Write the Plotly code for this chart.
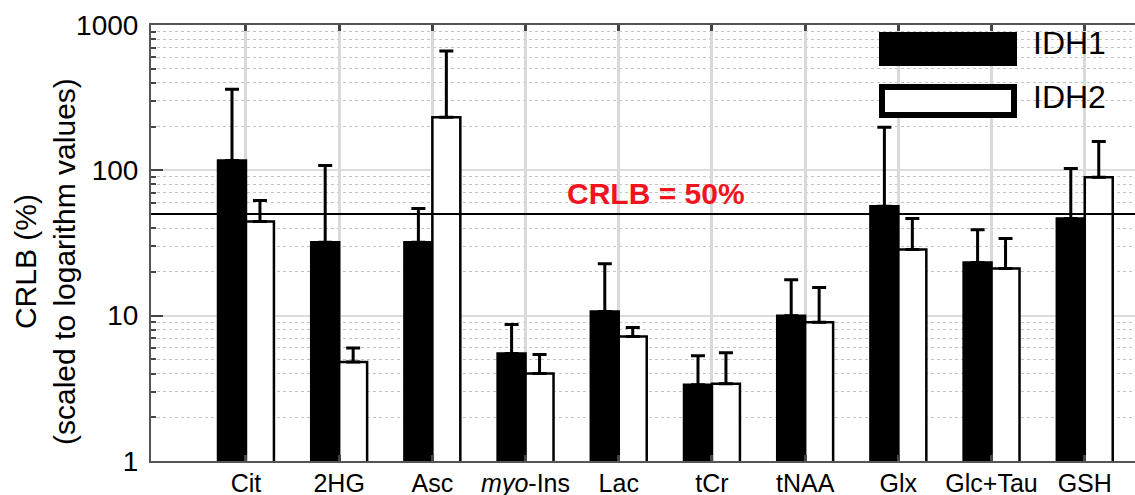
import plotly.graph_objects as go

# ---- data ----
categories = ["Cit", "2HG", "Asc", "myo-Ins", "Lac", "tCr", "tNAA", "Glx", "Glc+Tau", "GSH"]
tick_labels = ["Cit", "2HG", "Asc", "<i>myo</i>-Ins", "Lac", "tCr", "tNAA", "Glx", "Glc+Tau", "GSH"]
idh1_mean = [117, 32, 32, 5.5, 10.7, 3.35, 10.0, 56.5, 23.2, 46.7]
idh1_sd = [245, 76, 22.7, 3.2, 12.1, 1.95, 7.7, 141.5, 15.8, 56.3]
idh2_mean = [44.5, 4.8, 232, 4.0, 7.2, 3.4, 9.0, 28.5, 21.1, 89.5]
idh2_sd = [17.5, 1.2, 430, 1.4, 1.1, 2.15, 6.6, 18.2, 12.9, 68.5]
y_tick_vals = [1, 10, 100, 1000]
y_tick_text = ["1", "10", "100", "1000"]
CRLB_THRESHOLD = 50
series_names = ["IDH1", "IDH2"]

FONT = "Liberation Sans, Arial, Helvetica, sans-serif"
W, H = 1135, 495
ML, MR, MT, MB = 151, 0, 25, 34

fig = go.Figure()
err_style = dict(type="data", symmetric=False, color="black", thickness=3, width=7)
fig.add_trace(go.Bar(
    x=categories, y=idh1_mean, name=series_names[0],
    marker=dict(color="black", line=dict(color="black", width=2.5)),
    error_y=dict(array=idh1_sd, arrayminus=[0] * len(idh1_sd), **err_style),
))
fig.add_trace(go.Bar(
    x=categories, y=idh2_mean, name=series_names[1],
    marker=dict(color="white", line=dict(color="black", width=2.5)),
    error_y=dict(array=idh2_sd, arrayminus=[0] * len(idh2_sd), **err_style),
))

fig.add_hline(y=CRLB_THRESHOLD, line=dict(color="black", width=2))

minor_vals = [m * 10 ** e for e in range(3) for m in range(2, 10)]

fig.update_layout(
    template="none",
    width=W, height=H,
    margin=dict(l=ML, r=MR, t=MT, b=MB, pad=0, autoexpand=False),
    paper_bgcolor="white", plot_bgcolor="white",
    barmode="group", bargap=0.40, bargroupgap=0,
    showlegend=False,
    font=dict(family=FONT, color="black"),
    xaxis=dict(
        type="category", categoryorder="array", categoryarray=categories,
        range=[-1.019, 9.539], automargin=False,
        tickmode="array", tickvals=categories, ticktext=tick_labels,
        tickfont=dict(size=25, family=FONT, color="black"),
        showgrid=True, gridcolor="#d9d9d9", gridwidth=2.5,
        showline=True, linecolor="#555", linewidth=2, mirror="ticks",
        ticks="inside", ticklen=6, tickwidth=2.5, tickcolor="#444",
        ticklabelstandoff=-1,
        zeroline=False,
    ),
    yaxis=dict(
        type="log", range=[0, 3], automargin=False,
        tickmode="array", tickvals=y_tick_vals, ticktext=y_tick_text,
        tickfont=dict(size=28, family=FONT, color="black"),
        ticks="inside", ticklen=12, tickwidth=2, tickcolor="#444",
        showline=True, linecolor="#555", linewidth=2,
        showgrid=True, gridcolor="#dcdcdc", gridwidth=2,
        minor=dict(tickmode="array", tickvals=minor_vals, ticks="inside", ticklen=5,
                   tickwidth=2, tickcolor="#444", showgrid=True,
                   gridcolor="#c4c4c4", griddash="dot", gridwidth=1.3),
        zeroline=False,
        ticklabelstandoff=5,
    ),
)

def px_x(px):
    return (px - ML) / (W - ML - MR)

def px_y(py):
    return (H - MB - py) / (H - MB - MT)

# y-axis title
fig.add_annotation(
    text="CRLB (%)<br>(scaled to logarithm values)",
    xref="paper", yref="paper", x=px_x(45), y=px_y(262),
    xanchor="center", yanchor="middle", textangle=-90, showarrow=False,
    font=dict(size=30, family=FONT, color="black"),
)

# threshold label
fig.add_annotation(
    text="<b>CRLB = 50%</b>",
    xref="paper", yref="paper", x=px_x(656), y=px_y(193),
    xanchor="center", yanchor="middle", showarrow=False,
    font=dict(size=30, family=FONT, color="#f0141e"),
)

# custom legend
fig.add_shape(type="rect", xref="paper", yref="paper",
              x0=px_x(879), x1=px_x(1017), y0=px_y(66), y1=px_y(32),
              fillcolor="black", line=dict(color="black", width=0))
fig.add_shape(type="rect", xref="paper", yref="paper",
              x0=px_x(882), x1=px_x(1014), y0=px_y(115), y1=px_y(87),
              fillcolor="white", line=dict(color="black", width=6))
fig.add_annotation(text=series_names[0], xref="paper", yref="paper",
                   x=px_x(1031), y=px_y(43), xanchor="left", yanchor="middle",
                   showarrow=False, font=dict(size=32, family=FONT, color="black"))
fig.add_annotation(text=series_names[1], xref="paper", yref="paper",
                   x=px_x(1031), y=px_y(97), xanchor="left", yanchor="middle",
                   showarrow=False, font=dict(size=32, family=FONT, color="black"))

fig.write_html(
    "out.html",
    config={"displayModeBar": False},
    post_script="document.body.style.margin='0';document.body.style.overflow='hidden';",
)
